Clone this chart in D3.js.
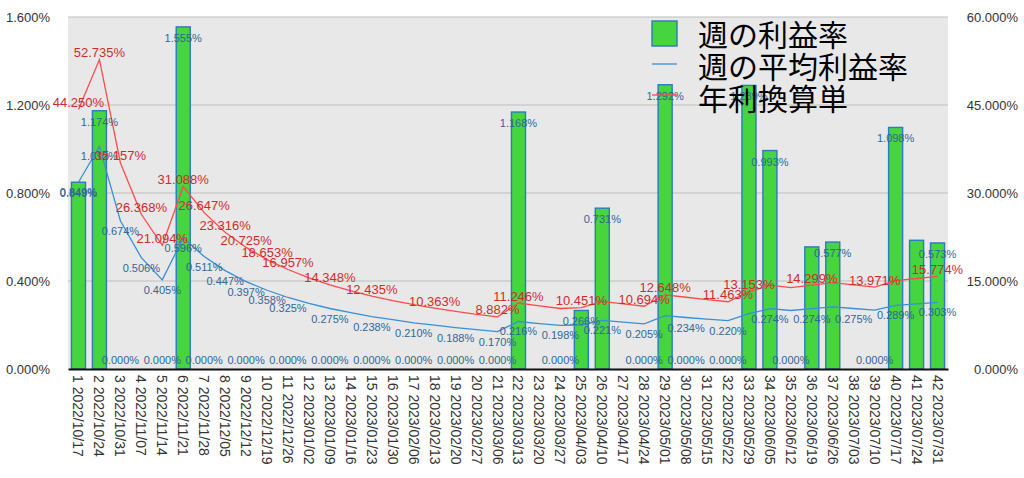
<!DOCTYPE html>
<html><head><meta charset="utf-8">
<script src="https://cdn.jsdelivr.net/npm/d3@7"></script>
<style>body{margin:0;background:#fff}svg{display:block}</style>
</head><body>
<svg id="c" width="1024" height="478"></svg>
<script>
const dates = ["2022/10/17","2022/10/24","2022/10/31","2022/11/07","2022/11/14","2022/11/21","2022/11/28","2022/12/05","2022/12/12","2022/12/19","2022/12/26","2023/01/02","2023/01/09","2023/01/16","2023/01/23","2023/01/30","2023/02/06","2023/02/13","2023/02/20","2023/02/27","2023/03/06","2023/03/13","2023/03/20","2023/03/27","2023/04/03","2023/04/10","2023/04/17","2023/04/24","2023/05/01","2023/05/08","2023/05/15","2023/05/22","2023/05/29","2023/06/05","2023/06/12","2023/06/19","2023/06/26","2023/07/03","2023/07/10","2023/07/17","2023/07/24","2023/07/31"];
const weekly = [0.849,1.174,0,0,0,1.555,0,0,0,0,0,0,0,0,0,0,0,0,0,0,0,1.168,0,0,0.266,0.731,0,0,1.292,0,0,0,1.289,0.993,0,0.555,0.577,0,0,1.098,0.585,0.573];
const avgWeekly = [0.849,1.012,0.674,0.506,0.405,0.596,0.511,0.447,0.397,0.358,0.325,0.298,0.275,0.256,0.238,0.224,0.210,0.199,0.188,0.179,0.170,0.216,0.206,0.198,0.200,0.221,0.213,0.205,0.243,0.234,0.227,0.220,0.252,0.274,0.266,0.274,0.282,0.275,0.268,0.289,0.296,0.303];
const annual = [44.250,52.735,35.157,26.368,21.094,31.088,26.647,23.316,20.725,18.653,16.957,15.547,14.348,13.326,12.435,11.660,10.975,10.363,9.819,9.328,8.882,11.246,10.760,10.311,10.451,11.518,11.091,10.694,12.648,12.228,11.833,11.463,13.153,14.289,13.880,14.299,14.726,14.338,13.971,15.052,15.429,15.774];
const leftTicks = [0,0.4,0.8,1.2,1.6];
const rightTicks = [0,15,30,45,60];
const seriesNames = ["週の利益率","週の平均利益率","年利換算単"];
// week numbers whose data labels are visible in the original
const barLabelShown = [1,2,3,5,6,7,9,11,13,15,17,19,21,22,24,25,26,28,29,30,32,33,34,35,37,39,40,42];
const avgLabelShown = [1,2,3,4,5,6,7,8,9,10,11,13,15,17,19,21,22,24,26,28,30,32,34,36,38,40,42];
const annLabelShown = [1,2,3,4,5,6,7,8,9,10,11,13,15,18,21,22,25,28,29,32,33,36,39,42];

const svg = d3.select("#c");
const L=68,R=948,T=17,B=369;
const idx = d3.range(1, dates.length+1);
const x = d3.scaleBand().domain(idx).range([L,R]).paddingInner(0.33).paddingOuter(0.165);
const cx = i => x(i)+x.bandwidth()/2;
const y = d3.scaleLinear().domain([0,1.6]).range([B,T]);
const y2 = d3.scaleLinear().domain([0,60]).range([B,T]);
const fmt = v => d3.format(".3f")(v)+"%";

const GREEN="#46d43f", BAR_STROKE="#2c7bbb", BLUE="#3a8fd6", BLUE_TXT="#2f6795", RED="#ff4a4a", RED_TXT="#d02b2b";
const FONT="'Liberation Sans', Arial, sans-serif";

svg.append("rect").attr("x",L).attr("y",T).attr("width",R-L).attr("height",B-T).attr("fill","#e8e8e8");
svg.append("g").selectAll("line").data(leftTicks.filter(d=>d>0)).join("line")
  .attr("x1",L).attr("x2",R).attr("y1",d=>y(d)).attr("y2",d=>y(d))
  .attr("stroke","#bdbdbd").attr("stroke-width",1.2);

// axes labels
const gl = svg.append("g").attr("transform",`translate(${L},0)`)
  .call(d3.axisLeft(y).tickValues(leftTicks).tickFormat(fmt).tickSize(0).tickPadding(18));
gl.select(".domain").remove();
gl.selectAll("text").attr("font-family",FONT).attr("font-size",13).attr("fill","#333");
const gr = svg.append("g").attr("transform",`translate(1018,0)`)
  .call(d3.axisLeft(y2).tickValues(rightTicks).tickFormat(fmt).tickSize(0).tickPadding(0));
gr.select(".domain").remove();
gr.selectAll("text").attr("font-family",FONT).attr("font-size",13).attr("fill","#333");

// bars
svg.append("g").selectAll("rect").data(idx).join("rect")
  .attr("x",i=>x(i)).attr("width",x.bandwidth())
  .attr("y",i=>y(weekly[i-1])).attr("height",i=>B-y(weekly[i-1]))
  .attr("fill",GREEN).attr("stroke",BAR_STROKE).attr("stroke-width",1.4);

// x axis
const gx = svg.append("g").attr("transform",`translate(0,${B})`)
  .call(d3.axisBottom(x).tickSize(0).tickFormat(i=>i+" "+dates[i-1]));
gx.select(".domain").attr("stroke","#111").attr("stroke-width",2);
gx.selectAll("text").attr("font-family",FONT).attr("font-size",14).attr("fill","#333")
  .attr("text-anchor","start").attr("dominant-baseline","central")
  .attr("transform","rotate(90)").attr("x",6).attr("y",0).attr("dy",null);

// lines
svg.append("path").datum(idx).attr("fill","none").attr("stroke",BLUE).attr("stroke-width",1.3)
  .attr("d",d3.line().x(cx).y(i=>y(avgWeekly[i-1])));
svg.append("path").datum(idx).attr("fill","none").attr("stroke",RED).attr("stroke-width",1.3)
  .attr("d",d3.line().x(cx).y(i=>y2(annual[i-1])));

// data labels
svg.append("g").selectAll("text").data(barLabelShown).join("text")
  .attr("x",cx).attr("y",i=>{const t=y(weekly[i-1]); return (B-t)>20? t+11 : t-9;})
  .attr("text-anchor","middle").attr("dominant-baseline","central")
  .attr("font-family",FONT).attr("font-size",11).attr("fill",BLUE_TXT)
  .text(i=>fmt(weekly[i-1]));
svg.append("g").selectAll("text").data(avgLabelShown).join("text")
  .attr("x",cx).attr("y",i=>y(avgWeekly[i-1])+10)
  .attr("text-anchor","middle").attr("dominant-baseline","central")
  .attr("font-family",FONT).attr("font-size",11).attr("fill",BLUE_TXT)
  .text(i=>fmt(avgWeekly[i-1]));
svg.append("g").selectAll("text").data(annLabelShown).join("text")
  .attr("x",cx).attr("y",i=>y2(annual[i-1])-7)
  .attr("text-anchor","middle").attr("dominant-baseline","central")
  .attr("font-family",FONT).attr("font-size",13).attr("fill",RED_TXT)
  .text(i=>fmt(annual[i-1]));

// legend
const lg = svg.append("g");
lg.append("rect").attr("x",652).attr("y",21).attr("width",25).attr("height",25)
  .attr("fill",GREEN).attr("stroke",BAR_STROKE).attr("stroke-width",1.4);
lg.append("line").attr("x1",652).attr("x2",677).attr("y1",64).attr("y2",64).attr("stroke",BLUE).attr("stroke-width",1.3);
lg.append("line").attr("x1",652).attr("x2",677).attr("y1",95).attr("y2",95).attr("stroke",RED).attr("stroke-width",1.3);
lg.selectAll("text.l").data(seriesNames).join("text").attr("class","l")
  .attr("x",698).attr("y",(d,k)=>33+k*32).attr("dominant-baseline","central")
  .attr("font-family","'Noto Sans CJK JP', sans-serif").attr("font-size",30).attr("fill","#000")
  .text(d=>d);
</script>
</body></html>
